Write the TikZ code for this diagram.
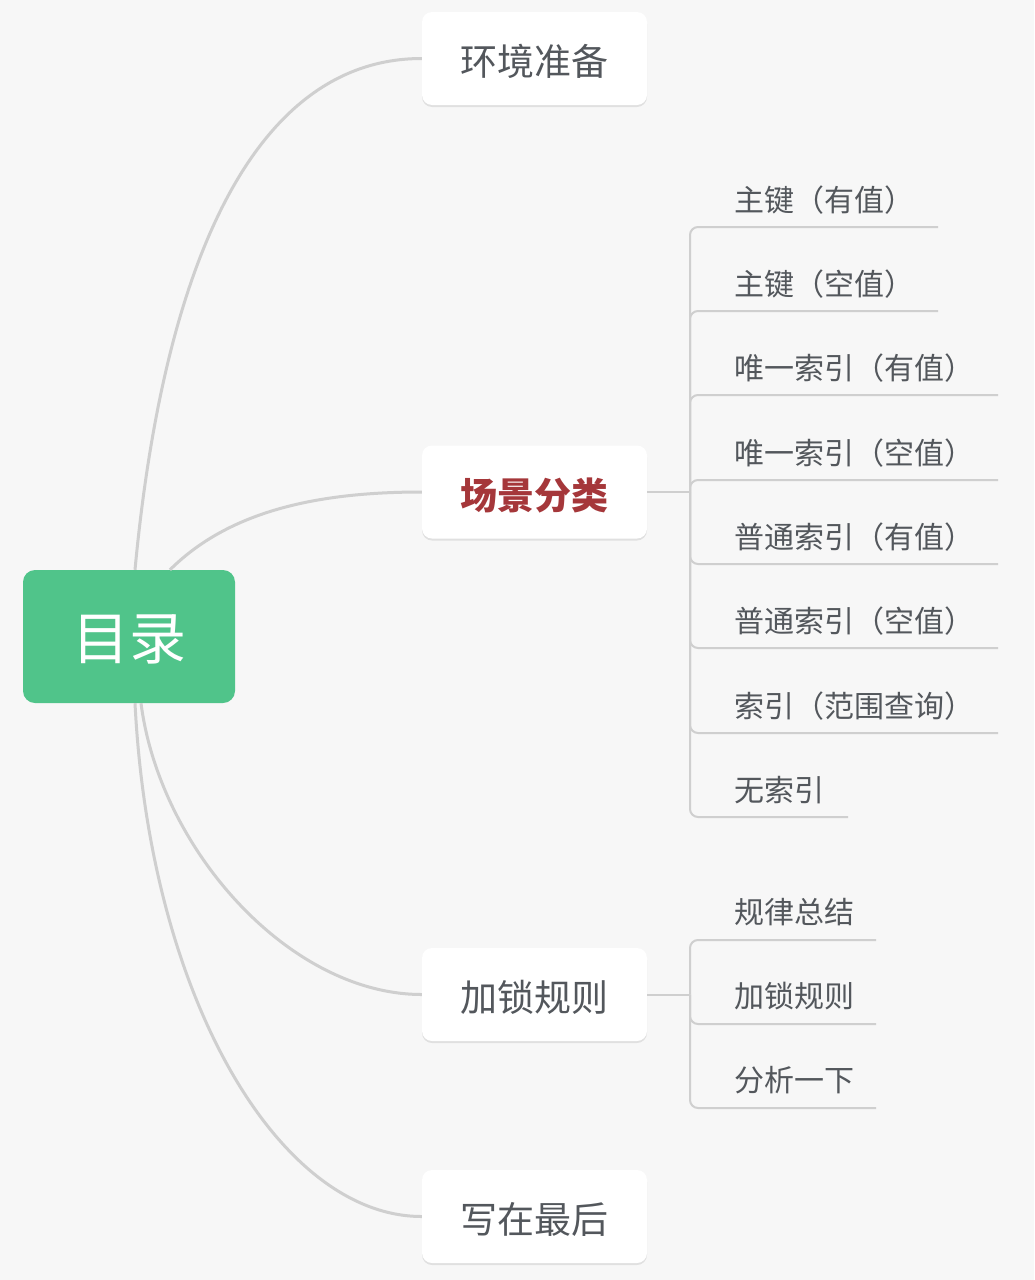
\documentclass[tikz,border=0pt]{standalone}
\usepackage{fontspec}
\newfontfamily\cjk{Noto Sans CJK SC}
\usetikzlibrary{shadows,calc}
\definecolor{bg}{HTML}{F7F7F7}
\definecolor{rootgreen}{HTML}{50C48A}
\definecolor{linegray}{HTML}{CFCFCF}
\definecolor{txt}{HTML}{53575C}
\definecolor{hl}{HTML}{A5373A}
\newcommand{\lowtext}[1]{\raisebox{-3pt}[\height][\depth]{#1}}
\begin{document}
\begin{tikzpicture}[x=1pt,y=-1pt,
  topic/.style={draw=none, fill=white, rounded corners=10pt, minimum width=225pt,
    minimum height=93pt, inner sep=0pt, text=txt,
    font=\cjk\fontsize{37}{44}\selectfont,
    drop shadow={shadow xshift=0pt, shadow yshift=-2pt, opacity=0.09, fill=black}},
  rootbox/.style={draw=none, fill=rootgreen, rounded corners=12pt, minimum width=212pt,
    minimum height=133pt, inner sep=0pt, text=white,
    font=\cjk\fontsize{57}{66}\selectfont},
  leaf/.style={anchor=west, inner sep=0pt, text=txt, font=\cjk\fontsize{30}{36}\selectfont},
  conn/.style={draw=linegray, line width=3pt},
  branch/.style={draw=linegray, line width=2pt},
  sub/.style={draw=linegray, line width=2pt, rounded corners=8pt}]
\fill[bg] (0,0) rectangle (1034,1280);
\useasboundingbox (0,0) rectangle (1034,1280);

% main nodes
\node[rootbox] (root) at (129,636.5) {\lowtext{目录}};
\node[topic] (n1) at (534.5,58.5) {\lowtext{环境准备}};
\node[topic, text=hl] (n2) at (534.5,492) {\lowtext{\bfseries 场景分类}};
\node[topic] (n3) at (534.5,994.5) {\lowtext{加锁规则}};
\node[topic] (n4) at (534.5,1216.5) {\lowtext{写在最后}};

% curved connectors
\draw[conn] ([xshift=6pt]root.north) .. controls (165,250) and (260,58.5) .. (n1.west);
\draw[conn] ([xshift=41pt]root.north) .. controls (230,510) and (320,492) .. (n2.west);
\draw[conn] ([xshift=12pt]root.south) .. controls (160,850) and (290,994.5) .. (n3.west);
\draw[conn] ([xshift=6pt]root.south) .. controls (150,1000) and (280,1216.5) .. (n4.west);

% children of 场景分类
\coordinate (j2) at (690,492);
\node[leaf] (c1) at (734,200) {主键（有值）};
\node[leaf] (c2) at (734,284) {主键（空值）};
\node[leaf] (c3) at (734,368) {唯一索引（有值）};
\node[leaf] (c4) at (734,453) {唯一索引（空值）};
\node[leaf] (c5) at (734,537) {普通索引（有值）};
\node[leaf] (c6) at (734,621) {普通索引（空值）};
\node[leaf] (c7) at (734,706) {索引（范围查询）};
\node[leaf] (c8) at (734,790) {无索引};
\coordinate (u1) at (938,227);
\coordinate (u2) at (938,311);
\coordinate (u3) at (998,395);
\coordinate (u4) at (998,480);
\coordinate (u5) at (998,564);
\coordinate (u6) at (998,648);
\coordinate (u7) at (998,733);
\coordinate (u8) at (848,817);
\draw[branch] (n2.east) -- (j2);
\foreach \u in {u1,u2,u3,u4,u5,u6,u7,u8} {\draw[sub] (j2) |- (\u);}

% children of 加锁规则
\coordinate (j3) at (690,994.5);
\node[leaf] (d1) at (734,912) {规律总结};
\node[leaf] (d2) at (734,996) {加锁规则};
\node[leaf] (d3) at (734,1080) {分析一下};
\coordinate (v1) at (876,940);
\coordinate (v2) at (876,1024);
\coordinate (v3) at (876,1108);
\draw[branch] (n3.east) -- (j3);
\foreach \v in {v1,v2,v3} {\draw[sub] (j3) |- (\v);}
\end{tikzpicture}
\end{document}
